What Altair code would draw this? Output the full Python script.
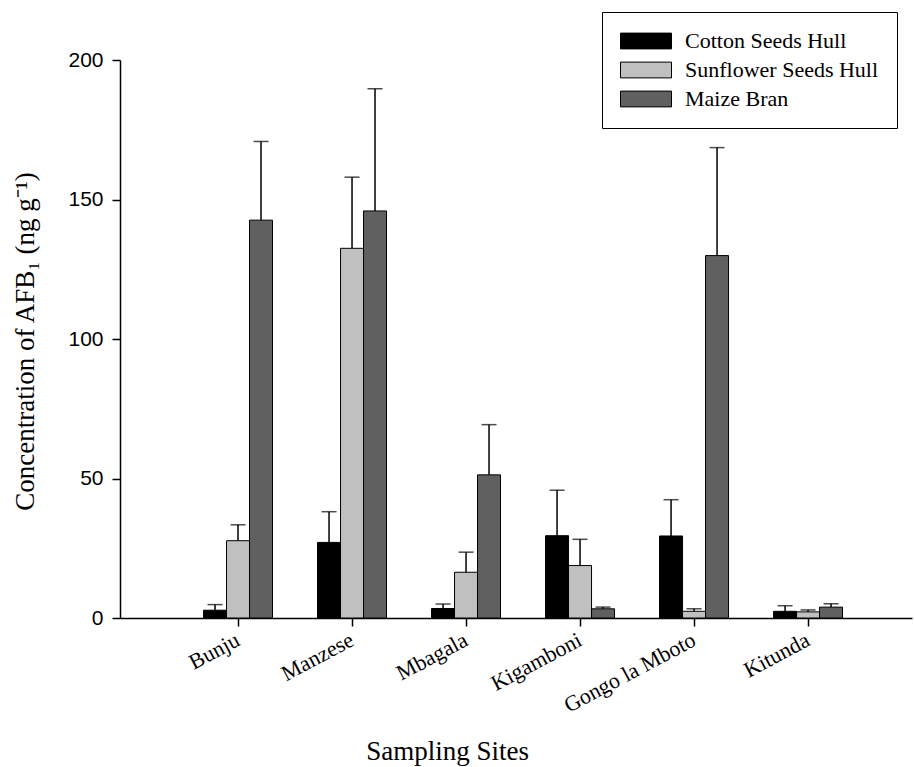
import altair as alt
import pandas as pd

sites = ["Bunju", "Manzese", "Mbagala", "Kigamboni", "Gongo la Mboto", "Kitunda"]
feeds = ["Cotton Seeds Hull", "Sunflower Seeds Hull", "Maize Bran"]
cotton = [2.8, 27.1, 3.4, 29.5, 29.4, 2.4]
cotton_err = [2.0, 11.0, 1.6, 16.3, 13.0, 2.0]
sunflower = [27.7, 132.5, 16.4, 18.8, 2.4, 2.2]
sunflower_err = [5.7, 25.5, 7.2, 9.4, 0.9, 0.7]
maize = [142.6, 145.9, 51.3, 3.3, 129.9, 3.9]
maize_err = [28.2, 43.8, 18.0, 0.6, 38.7, 1.2]
colors = ["#000000", "#c0c0c0", "#606060"]

rows = []
for i, s in enumerate(sites):
    for f, v, e in zip(feeds, [cotton, sunflower, maize], [cotton_err, sunflower_err, maize_err]):
        rows.append({"site": s, "feed": f, "value": v[i], "top": v[i] + e[i]})
df = pd.DataFrame(rows)

serif = "Liberation Serif"
sans = "Liberation Sans"

xscale = alt.Scale(domain=sites, paddingInner=0.395, paddingOuter=0.671, align=0.546)
x = alt.X("site:N", scale=xscale, sort=sites,
          axis=alt.Axis(title="Sampling Sites", labelAngle=-28, labelAlign="right",
                        labelBaseline="middle", labelFont=serif, labelFontSize=22,
                        labelPadding=12, labelColor="black",
                        titleFont=serif, titleFontSize=27, titleFontWeight="normal",
                        titleX=327, titleY=141, titleBaseline="alphabetic", titleColor="black",
                        domainColor="black", domainWidth=1.5, tickColor="black",
                        tickWidth=1.5, tickSize=8))
y = alt.Y("value:Q", scale=alt.Scale(domain=[0, 200], nice=False),
          axis=alt.Axis(title="Concentration of AFB\u2081 (ng g\u207b\u00b9)", values=[0, 50, 100, 150, 200],
                        labelFont=sans, labelFontSize=21, labelColor="black", labelPadding=9,
                        titleFont=serif, titleFontSize=27, titleFontWeight="normal",
                        titleColor="black", titleX=-87, titleY=281, titleAngle=-90,
                        titleAlign="center", titleBaseline="alphabetic",
                        domainColor="black", domainWidth=1.5, tickColor="black",
                        tickWidth=1.5, tickSize=8, grid=False))
xoff = alt.XOffset("feed:N", sort=feeds, scale=alt.Scale(domain=feeds))
color = alt.Color("feed:N", sort=feeds, scale=alt.Scale(domain=feeds, range=colors),
                  legend=alt.Legend(title=None, orient="none", legendX=482, legendY=-48,
                                    symbolType="M-1,-0.31H1V0.31H-1Z", symbolSize=2601,
                                    symbolStrokeColor="black", symbolStrokeWidth=1,
                                    clipHeight=22,
                                    labelFont=serif, labelFontSize=22, labelColor="black",
                                    labelOffset=13, labelLimit=400, rowPadding=7,
                                    padding=18, strokeColor="black", fillColor="white"))

bars = alt.Chart(df).mark_bar(stroke="black", strokeWidth=1).encode(
    x=x, xOffset=xoff, y=y, color=color)

err = alt.Chart(df).mark_rule(color="black", strokeWidth=1.5).encode(
    x=alt.X("site:N", scale=xscale, sort=sites), xOffset=xoff,
    y=alt.Y("value:Q"), y2="top:Q")

cap = alt.Chart(df).mark_tick(color="black", thickness=1.5, size=15).encode(
    x=alt.X("site:N", scale=xscale, sort=sites), xOffset=xoff,
    y=alt.Y("top:Q"))

chart = alt.layer(bars, err, cap).properties(
    width=792, height=558,
    background="white",
    autosize=alt.AutoSizeParams(type="none"),
    padding={"left": 120, "top": 60, "right": 2, "bottom": 149},
).configure_view(stroke=None)

chart.save("out.html", embed_options={"renderer": "svg", "actions": False})
